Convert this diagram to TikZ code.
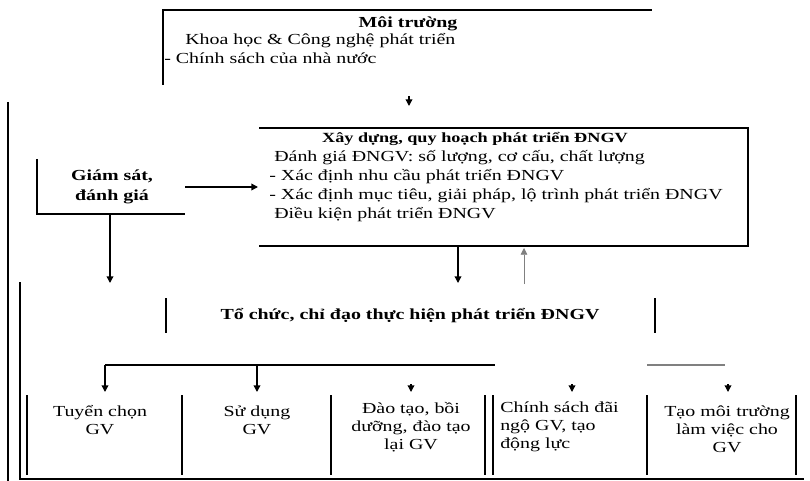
\documentclass[tikz,border=0pt]{standalone}
\usepackage{fontspec}
\setmainfont[FakeStretch=1.3]{Liberation Serif}
\usetikzlibrary{arrows.meta}

\tikzset{
  txt/.style={inner sep=0.75pt, font=\fontsize{11.5}{13.5}\selectfont, align=left},
  bold/.style={inner sep=0.75pt, font=\fontsize{11.5}{15}\selectfont\bfseries, align=center},
  rule/.style={line width=1.3pt},
  arr/.style={line width=1pt, -{Triangle[length=5pt,width=5pt]}},
}

\begin{document}
\begin{tikzpicture}[x=0.75pt,y=0.75pt,yscale=-1,xscale=1]
\useasboundingbox (0,0) rectangle (810,481);

% Text Node
\node[bold] (mt) at (408,24) {Môi trường};
% Text Node
\node[txt, anchor=west] (mtA) at (184,41) {Khoa học \& Công nghệ phát triển};
% Text Node
\node[txt, anchor=west] (mtB) at (163,58) {- Chính sách của nhà nước};
%Straight Lines
\draw[rule] (163,85) -- (163,10) -- (652,10);
\coordinate (mtS) at (409,96);
\coordinate (xdN) at (409,106);
\draw[arr] (mtS) -- (xdN);

% Text Node
\node[bold, font=\fontsize{10.5}{13}\selectfont\bfseries] (xd) at (475,139) {Xây dựng, quy hoạch phát triển ĐNGV};
\node[txt, anchor=west] (xdA) at (273,158) {Đánh giá ĐNGV: số lượng, cơ cấu, chất lượng};
\node[txt, anchor=west] (xdB) at (268,177) {- Xác định nhu cầu phát triển ĐNGV};
\node[txt, anchor=west] (xdC) at (268,196) {- Xác định mục tiêu, giải pháp, lộ trình phát triển ĐNGV};
\node[txt, anchor=west] (xdD) at (273,215) {Điều kiện phát triển ĐNGV};
%Straight Lines
\draw[rule] (259,128) -- (748,128) -- (748,246) -- (259,246);

% Text Node
\node[bold] (gs) at (112,187) {Giám sát,\\đánh giá};
%Straight Lines
\draw[rule] (37,159) -- (37,214) -- (185,214);
\coordinate (gsE) at (185,187);
\coordinate (xdW) at (258,187);
\draw[arr] (gsE) -- (xdW);
\coordinate (gsS) at (110,214);
\coordinate (tcW) at (110,283);
\draw[arr] (gsS) -- (tcW);

%Straight Lines
\draw[rule] (8,102) -- (8,481);
\draw[rule] (20,282) -- (20,479) -- (804,479);

\coordinate (xdS) at (458,246);
\coordinate (tcN) at (458,283);
\draw[arr] (xdS) -- (tcN);
\coordinate (tcE) at (524,284);
\coordinate (xdSE) at (524,248);
\draw[arr, line width=0.5pt, gray] (tcE) -- (xdSE);

% Text Node
\node[bold] (tc) at (410,316) {Tổ chức, chỉ đạo thực hiện phát triển ĐNGV};
%Straight Lines
\draw[rule] (166,298) -- (166,333);
\draw[rule] (655,298) -- (655,333);

%Straight Lines
\coordinate (d1) at (105,365);
\coordinate (d2) at (257,365);
\coordinate (dL) at (495,365);
\coordinate (dR1) at (647,365);
\coordinate (dR2) at (725,365);
\draw[line width=0.8pt] (d1) -- (dL);
\draw[line width=0.8pt, gray] (dR1) -- (dR2);
\foreach \x [count=\i] in {105,257,411,572,728}
  \coordinate (top\i) at (\x,392);
\foreach \x [count=\i from 3] in {411,572,728}
  \coordinate (tip\i) at (\x,384);
\draw[arr] (d1) -- (top1);
\draw[arr] (d2) -- (top2);
\foreach \i in {3,4,5}
  \draw[arr] (tip\i) -- (top\i);

\foreach \x in {27,182,331,485,493,647,796}
  \draw[rule] (\x,395) -- (\x,475);

% Text Node
\node[txt, align=center] (b1) at (100,420) {Tuyển chọn\\GV};
\node[txt, align=center] (b2) at (257,420) {Sử dụng\\GV};
\node[txt, align=center] (b3) at (411,427) {Đào tạo, bồi\\dưỡng, đào tạo\\lại GV};
\node[txt, anchor=west] (b4) at (499,427) {Chính sách đãi\\ngộ GV, tạo\\động lực};
\node[txt, align=center] (b5) at (727,429) {Tạo môi trường\\làm việc cho\\GV};

\end{tikzpicture}
\end{document}
